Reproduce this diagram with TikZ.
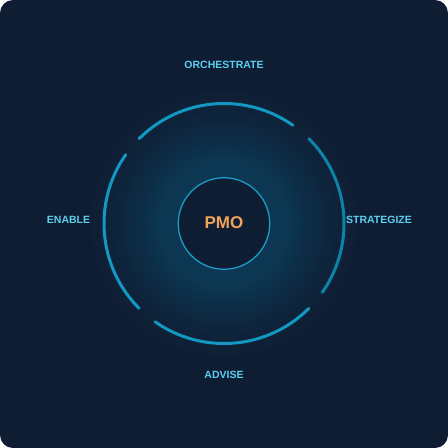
\documentclass[tikz,border=0pt]{standalone}
\usepackage{fontspec}
\setmainfont{Liberation Sans}
\definecolor{bgc}{HTML}{0F1D33}
\definecolor{glowc}{HTML}{0C3652}
\definecolor{arcc}{HTML}{1199C2}
\definecolor{arcd}{HTML}{0C84A8}
\definecolor{ringc}{HTML}{1A9DC4}
\definecolor{labc}{HTML}{5CCFEF}
\definecolor{pmoc}{HTML}{F2A25A}
\tikzset{
  arcline/.style={line width=3pt, line cap=round, draw=arcc},
  lab/.style={font=\bfseries\fontsize{10.5}{12}\selectfont, text=labc, inner sep=0pt},
}
\begin{document}
\begin{tikzpicture}[x=1pt,y=-1pt]
\useasboundingbox (0,0) rectangle (448,448);
\fill[white] (0,0) rectangle (448,448);
\fill[bgc, rounded corners=13pt] (0,0) rectangle (448,448);
\coordinate (c) at (224,223.5);
% glow as stepped concentric discs
\foreach \r in {140,137,...,47}{
  \pgfmathsetmacro{\t}{max(0,min(100,(140-\r)/75*100))}
  \pgfmathsetmacro{\s}{100*(\t/100)^(1.3)}
  \fill[glowc!\s!bgc] (c) circle[radius=\r];
}
% arcs
\draw[arcline] ([shift={(-55:120)}]c) arc[start angle=-55, end angle=-135, radius=120];
\draw[arcline] ([shift={(-145:120)}]c) arc[start angle=-145, end angle=-225, radius=120];
\draw[arcline] ([shift={(-235:120)}]c) arc[start angle=-235, end angle=-315, radius=120];
\draw[arcline, draw=arcd] ([shift={(-325:120)}]c) arc[start angle=-325, end angle=-405, radius=120];
\node[circle, minimum size=91.5pt, inner sep=0pt, fill=bgc, draw=ringc, line width=1.3pt] (pmo) at (c) {};
\node[font=\bfseries\fontsize{17}{19}\selectfont, text=pmoc, inner sep=0pt] (pmot) at (224,222.5) {PMO};
\node[lab] (orch) at (224,64.5) {ORCHESTRATE};
\node[lab] (enab) at (68.5,219.5) {ENABLE};
\node[lab] (strat) at (379,219.5) {STRATEGIZE};
\node[lab] (adv) at (224,374.5) {ADVISE};
\end{tikzpicture}
\end{document}
